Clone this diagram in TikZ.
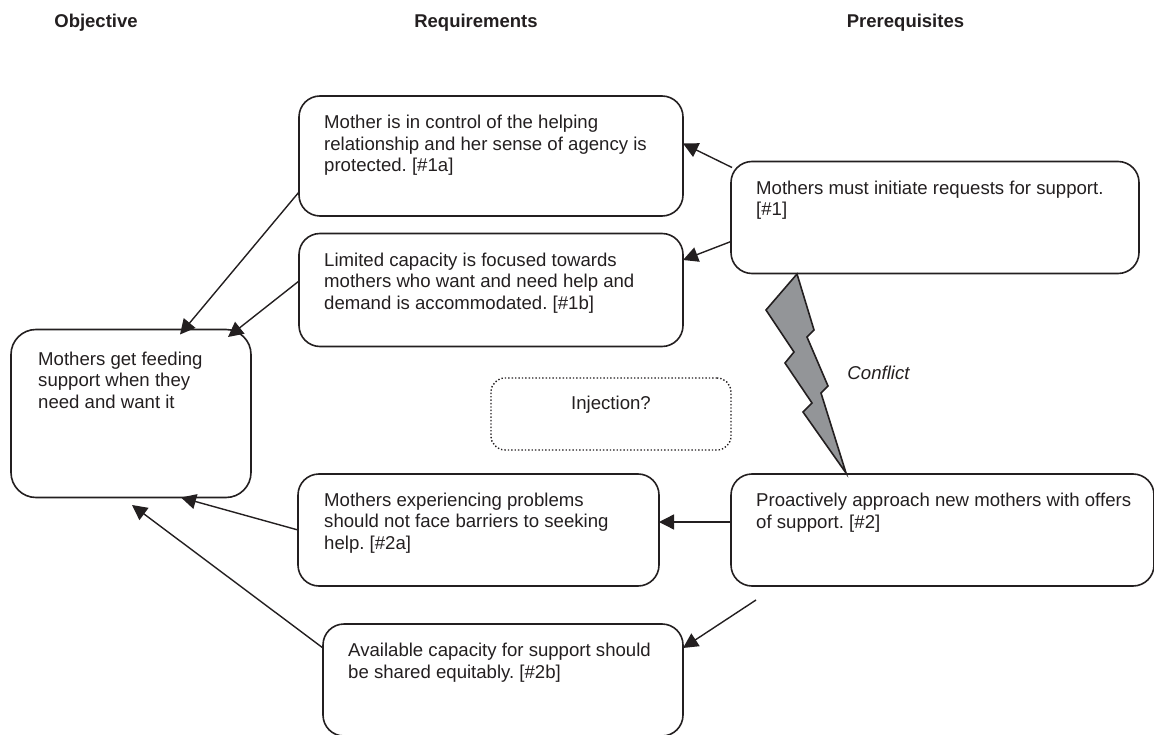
\documentclass[tikz,border=0pt]{standalone}
\usepackage{fontspec}
\setmainfont{Liberation Sans}
\usetikzlibrary{arrows.meta}
\definecolor{inkc}{HTML}{231F20}
\definecolor{boltc}{HTML}{939598}
\frenchspacing
\tikzset{
  boxn/.style={draw=inkc, line width=1.6pt, rounded corners=21pt, inner sep=0pt, outer sep=0pt, minimum width=#1, anchor=north west},
  txt/.style={inner sep=0pt, anchor=base west, align=left, text=inkc, font=\fontsize{18.6}{21.5}\selectfont},
  head/.style={font=\fontsize{18.5}{22}\selectfont\bfseries, inner sep=0pt, anchor=base, text=inkc},
  arr/.style={draw=inkc, line width=1.4pt, -{Triangle[length=15pt,width=15pt]}},
}
\begin{document}
\begin{tikzpicture}[x=1pt,y=-1pt]
\useasboundingbox (0,0) rectangle (1154,735);
\node[head] (hobj) at (96,28){Objective};
\node[head] (hreq) at (476,28){Requirements};
\node[head] (hpre) at (905.5,28){Prerequisites};
\node[boxn=240pt, minimum height=168pt, rounded corners=25pt] (obj) at (11,329.5){};
\node[txt] (tobj) at (38,408){Mothers get feeding\\support when they\\need and want it};
\node[boxn=384pt, minimum height=120pt] (r1a) at (299,96){};
\node[txt] (t1a) at (324,172){Mother is in control of the helping\\relationship and her sense of agency is\\protected. [\#1a]};
\node[boxn=384pt, minimum height=113pt] (r1b) at (299,233.5){};
\node[txt] (t1b) at (324,309){Limited capacity is focused towards\\mothers who want and need help and\\demand is accommodated. [\#1b]};
\node[boxn=361pt, minimum height=112pt] (r2a) at (298,474){};
\node[txt] (t2a) at (324,549){Mothers experiencing problems\\should not face barriers to seeking\\help. [\#2a]};
\node[boxn=360pt, minimum height=112pt] (r2b) at (323,624){};
\node[txt] (t2b) at (348,678){Available capacity for support should\\be shared equitably. [\#2b]};
\node[boxn=408pt, minimum height=112pt] (p1) at (731,161.5){};
\node[txt] (t1) at (756,216){Mothers must initiate requests for support.\\{[\#1]}};
\node[boxn=423pt, minimum height=112pt] (p2) at (731,474){};
\node[txt] (t2) at (756,528){Proactively approach new mothers with offers\\of support. [\#2]};
\node[draw=inkc, line width=1.4pt, dotted, rounded corners=14pt, inner sep=0pt, outer sep=0pt, minimum width=240pt, minimum height=72pt, anchor=north west] (inj) at (491,378){};
\node[txt, anchor=base] (tinj) at (611,409){Injection?};
\node[txt, anchor=base, font=\fontsize{18.6}{21.5}\selectfont\itshape] (conf) at (878.5,379){Conflict};
\draw[draw=inkc, line width=1.6pt, fill=boltc, line join=miter] (797,274)--(766,310)--(794,352)--(785,363)--(812,403)--(803,412)--(846,473)--(821,393)--(828,386)--(807,337)--(814,330)--cycle;
% connectors
\draw[arr] ([shift={(1pt,-6pt)}]p1.north west) -- ([yshift=12.5pt]r1a.east);
\draw[arr] ([yshift=-24pt]p1.west) -- ([yshift=30pt]r1b.east);
\draw[arr] ([yshift=8pt]p2.west) -- ([yshift=8pt]r2a.east);
\coordinate (p2end) at (756,600);
\draw[arr] (p2end) -- ([yshift=32pt]r2b.east);
\draw[arr] ([yshift=-36pt]r1a.west) -- ([shift={(49pt,-5pt)}]obj.north);
\draw[arr] ([yshift=9pt]r1b.west) -- ([shift={(97pt,-7.5pt)}]obj.north);
\draw[arr] ([yshift=0pt]r2a.west) -- ([xshift=50pt]obj.south);
\coordinate (objend) at (132,505);
\draw[arr] ([yshift=32pt]r2b.west) -- (objend);
\end{tikzpicture}
\end{document}
